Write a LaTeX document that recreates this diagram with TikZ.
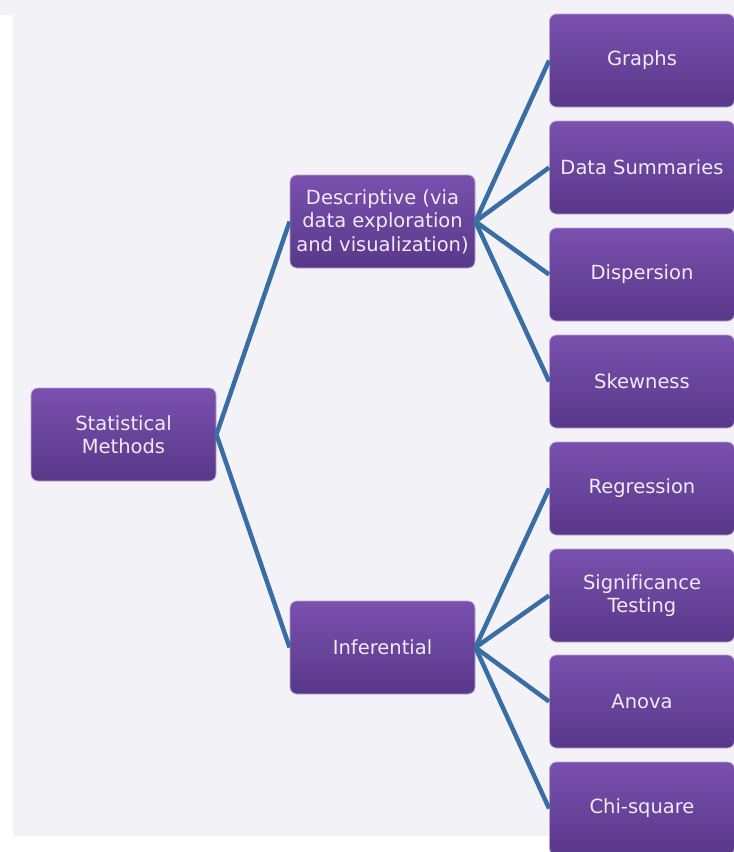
\documentclass[tikz,border=0pt]{standalone}
\usepackage{fontspec}
\setmainfont[Ligatures=NoCommon]{DejaVu Sans}
\definecolor{boxtop}{HTML}{7A50AE}
\definecolor{boxbot}{HTML}{583889}
\definecolor{boxedge}{HTML}{B9A3D3}
\definecolor{boxtext}{HTML}{F2EAF6}
\definecolor{linkc}{HTML}{3A6DA3}
\definecolor{bgc}{HTML}{F2F2F7}
\begin{document}
\begin{tikzpicture}[x=1pt,y=-1pt,
  box/.style={rounded corners=7pt, top color=boxtop, bottom color=boxbot,
    draw=boxedge, line width=0.8pt, minimum width=185pt, minimum height=93pt,
    text=boxtext, align=center, font=\fontsize{19.5}{23.5}\selectfont, inner sep=0pt},
  link/.style={draw=linkc, line width=4.5pt}]
\useasboundingbox (0,0) rectangle (734,852);
\fill[white] (0,0) rectangle (734,852);
\fill[bgc] (13,0) rectangle (734,836);
\fill[bgc] (0,0) rectangle (13,15);
% nodes
\node[box] (root) at (123.5,434.5) {Statistical\\Methods};
\node[box] (desc) at (382.5,221.5) {Descriptive (via\\data exploration\\and visualization)};
\node[box] (inf)  at (382.5,647.5) {Inferential};
\node[box] (graphs) at (642,60.5) {Graphs};
\node[box] (summ)   at (642,167.5) {Data Summaries};
\node[box] (disp)   at (642,274.5) {Dispersion};
\node[box] (skew)   at (642,381.5) {Skewness};
\node[box] (regr)   at (642,488.5) {Regression};
\node[box] (sig)    at (642,595.5) {Significance\\Testing};
\node[box] (anova)  at (642,701.5) {Anova};
\node[box] (chi)    at (642,808.5) {Chi-square};
% connectors
\draw[link] (root.east) -- (desc.west);
\draw[link] (root.east) -- (inf.west);
\foreach \c in {graphs,summ,disp,skew}{\draw[link] (desc.east) -- (\c.west);}
\foreach \c in {regr,sig,anova,chi}{\draw[link] (inf.east) -- (\c.west);}
\end{tikzpicture}
\end{document}
